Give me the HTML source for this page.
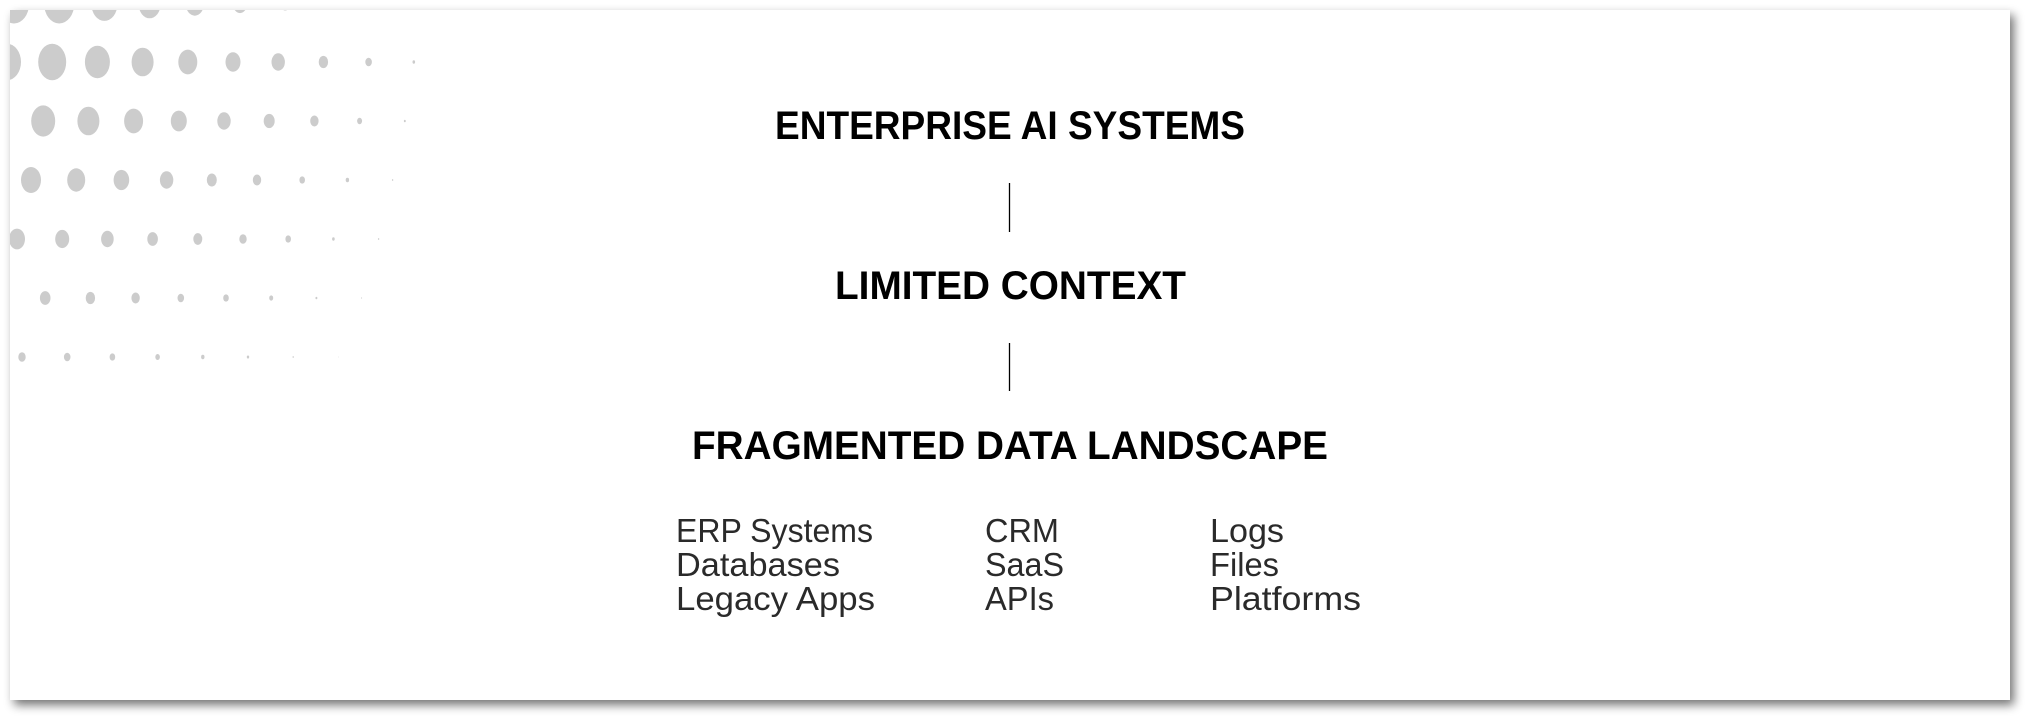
<!DOCTYPE html>
<html><head><meta charset="utf-8"><style>
html,body{margin:0;padding:0;background:#fff;width:2030px;height:720px;overflow:hidden}
svg{display:block}
</style></head><body>
<svg id="s" width="2030" height="720" viewBox="0 0 2030 720" xmlns="http://www.w3.org/2000/svg">
<defs>
<filter id="sh" x="-5%" y="-5%" width="110%" height="115%">
<feGaussianBlur in="SourceAlpha" stdDeviation="5"/>
<feOffset dx="4" dy="5" result="b"/>
<feComponentTransfer><feFuncA type="linear" slope="0.55"/></feComponentTransfer>
<feMerge><feMergeNode/><feMergeNode in="SourceGraphic"/></feMerge>
</filter>
<clipPath id="cp"><rect x="10" y="10" width="2000" height="690"/></clipPath>
</defs>
<rect x="10" y="10" width="2000" height="690" fill="#fff" filter="url(#sh)"/>
<g id="dots" clip-path="url(#cp)" fill="#cccccc"></g>
<g font-family="Liberation Sans, sans-serif" fill="#000">
<text x="775" y="139" font-size="40" font-weight="bold" textLength="470" lengthAdjust="spacingAndGlyphs">ENTERPRISE AI SYSTEMS</text>
<text x="835" y="299" font-size="40" font-weight="bold" textLength="351" lengthAdjust="spacingAndGlyphs">LIMITED CONTEXT</text>
<text x="692" y="459" font-size="40" font-weight="bold" textLength="636" lengthAdjust="spacingAndGlyphs">FRAGMENTED DATA LANDSCAPE</text>
</g>
<line x1="1009.5" y1="183" x2="1009.5" y2="232" stroke="#000" stroke-width="1.3"/>
<line x1="1009.5" y1="343" x2="1009.5" y2="391" stroke="#000" stroke-width="1.3"/>
<g font-family="Liberation Sans, sans-serif" font-size="33" fill="#2a2a2a">
<text x="676" y="542" textLength="197" lengthAdjust="spacingAndGlyphs">ERP Systems</text>
<text x="676" y="576" textLength="164" lengthAdjust="spacingAndGlyphs">Databases</text>
<text x="676" y="610" textLength="199" lengthAdjust="spacingAndGlyphs">Legacy Apps</text>
<text x="985" y="542" textLength="74" lengthAdjust="spacingAndGlyphs">CRM</text>
<text x="985" y="576" textLength="79" lengthAdjust="spacingAndGlyphs">SaaS</text>
<text x="985" y="610" textLength="69" lengthAdjust="spacingAndGlyphs">APIs</text>
<text x="1210" y="542" textLength="74" lengthAdjust="spacingAndGlyphs">Logs</text>
<text x="1210" y="576" textLength="69" lengthAdjust="spacingAndGlyphs">Files</text>
<text x="1210" y="610" textLength="151" lengthAdjust="spacingAndGlyphs">Platforms</text>
</g>
</svg>
<script>
var rows=[
 {y:4, x0:14, r:[15,15,13,11,9,7,5]},
 {y:62,x0:7, r:[14,14,12.5,11,9.5,7.5,6.7,4.7,3.3,1.3]},
 {y:121,x0:-2,r:[12,12,11,9.5,8,6.7,5.5,4.2,2.5,1]},
 {y:180,x0:31,r:[10,9,7.8,6.7,5,4.2,2.8,1.7,0.7]},
 {y:239,x0:17,r:[8,7,6.3,5.3,4.5,3.7,2.8,1.3,0.7]},
 {y:298,x0:0,r:[6,5.3,4.7,4.2,3.3,2.8,2,1,0.5]},
 {y:357,x0:22,r:[3.7,3.3,2.8,2.3,1.7,1.2,0.7,0.3]}
];
var g=document.getElementById('dots'),h='';
rows.forEach(function(R){R.r.forEach(function(r,i){
 h+='<ellipse cx="'+(R.x0+45.2*i)+'" cy="'+R.y+'" rx="'+r+'" ry="'+(r*1.3)+'"/>';});});
g.innerHTML=h;
</script>
</body></html>
